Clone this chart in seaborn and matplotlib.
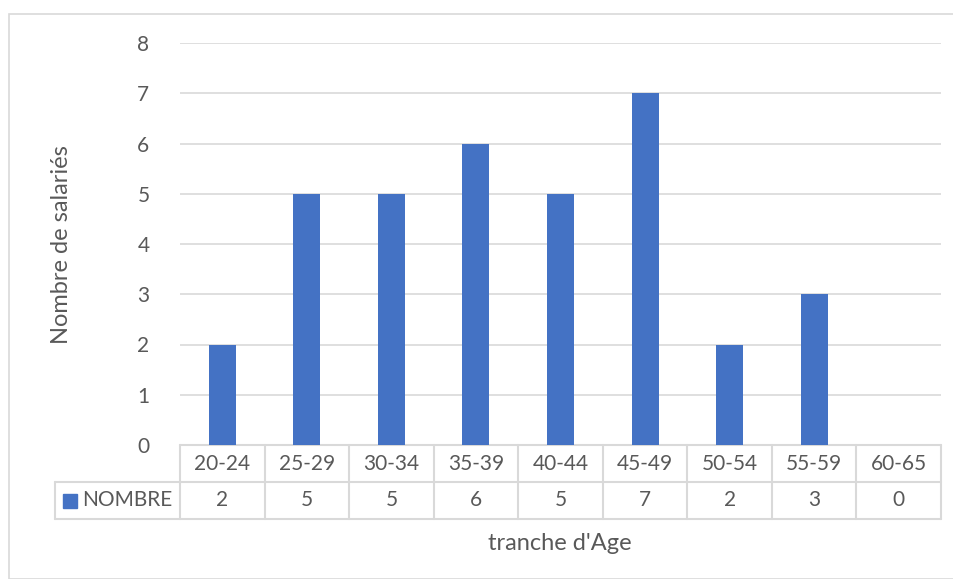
import matplotlib
matplotlib.use("Agg")
import matplotlib.pyplot as plt
import matplotlib.patches as mpatches
import seaborn as sns
import pandas as pd

# donnees du graphique
tranches = ["20-24", "25-29", "30-34", "35-39", "40-44", "45-49", "50-54", "55-59", "60-65"]
nombre = [2, 5, 5, 6, 5, 7, 2, 3, 0]
yticks = [0, 1, 2, 3, 4, 5, 6, 7, 8]

df = pd.DataFrame({"tranche": tranches, "NOMBRE": nombre})

bleu = "#4472C4"
gris = "#D9D9D9"
texte = "#595959"

sns.set_theme(style="white")
plt.rcParams["font.family"] = ["Lato", "DejaVu Sans"]

W, H = 954, 579
fig = plt.figure(figsize=(W / 100, H / 100), dpi=100)

# cadre du graphique
fig.patches.append(mpatches.Rectangle((9 / W, 0), (W - 9) / W, (H - 14) / H,
                                      transform=fig.transFigure, fill=False,
                                      edgecolor=gris, linewidth=1.2))

ax = fig.add_axes([180 / W, (H - 445) / H, 761 / W, 402 / H])
sns.barplot(data=df, x="tranche", y="NOMBRE", color=bleu, width=0.32,
            saturation=1, linewidth=0, ax=ax, zorder=3)

ax.set_ylim(0, 8)
ax.set_xlim(-0.5, len(tranches) - 0.5)
ax.set_yticks(yticks)
ax.set_yticklabels([str(v) for v in yticks], fontsize=15, color=texte)
ax.tick_params(axis="y", length=0, pad=22)
ax.set_xticks([])
ax.set_xlabel("")
ax.set_ylabel("")
for s in ax.spines.values():
    s.set_visible(False)
for v in yticks[1:]:
    ax.axhline(v, color=gris, linewidth=1.2, zorder=0)

# tableau de donnees sous l'axe
rh = 37 / 402
gauche = (55 - 180) / 761
tr = ax.transAxes
kw = dict(color=gris, linewidth=1.5, transform=tr, clip_on=False)
ax.plot([0, 1], [0, 0], **kw)
ax.plot([gauche, 1], [-rh, -rh], **kw)
ax.plot([gauche, 1], [-2 * rh, -2 * rh], **kw)
ax.plot([gauche, gauche], [-rh, -2 * rh], **kw)
n = len(tranches)
for i in range(n + 1):
    ax.plot([i / n, i / n], [0, -2 * rh], **kw)
for i, (t, v) in enumerate(zip(tranches, nombre)):
    xc = (i + 0.5) / n
    ax.text(xc, -rh / 2, t, transform=tr, ha="center", va="center",
            fontsize=15, color=texte)
    ax.text(xc, -1.5 * rh, str(v), transform=tr, ha="center", va="center",
            fontsize=15, color=texte)

# legende dans le tableau
ax.add_patch(mpatches.Rectangle(((63 - 180) / 761, -1.5 * rh - 7 / 402), 14 / 761, 14 / 402,
                                transform=tr, clip_on=False, color=bleu))
ax.text((82 - 180) / 761, -1.5 * rh, "NOMBRE", transform=tr, ha="left", va="center",
        fontsize=15, color=texte)

# titres des axes
fig.text(62 / W, 1 - 245 / H, "Nombre de salariés", rotation=90, ha="center", va="center",
         fontsize=17, color=texte)
fig.text(560 / W, 1 - 543 / H, "tranche d'Age", ha="center", va="center",
         fontsize=17, color=texte)

fig.savefig("out.png", dpi=100)
